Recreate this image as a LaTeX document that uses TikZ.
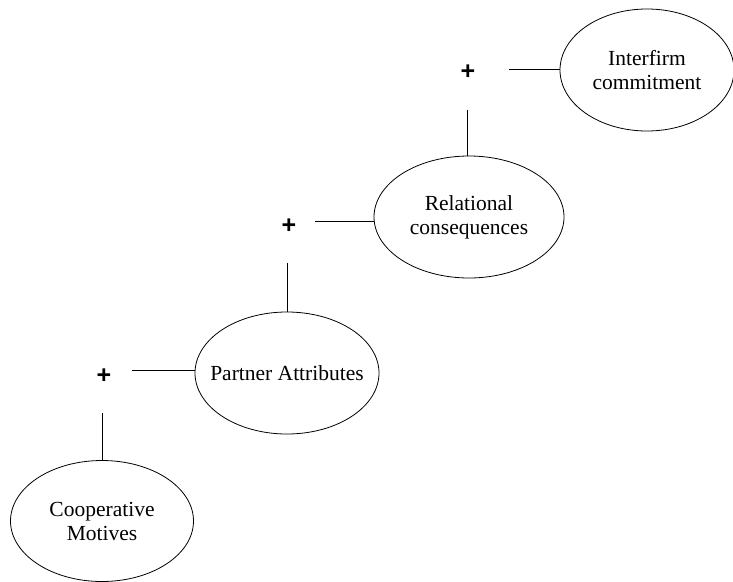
\documentclass[tikz,border=0pt]{standalone}
\usepackage{fontspec}
\setmainfont{Liberation Serif}
\newfontfamily\plusfont{Liberation Sans Bold}
\usetikzlibrary{shapes.geometric}
\begin{document}
\begin{tikzpicture}[x=1pt,y=-1pt,
  oval/.style={draw=black, line width=0.8pt, ellipse, inner xsep=-20pt, inner ysep=0pt, align=center,
    font=\fontsize{21.5}{24}\selectfont},
  plussign/.style={font=\plusfont\fontsize{25}{25}\selectfont, inner sep=0pt},
  link/.style={draw=black, line width=0.9pt}]
\useasboundingbox (0,0) rectangle (733,581);
\node[oval, minimum width=183pt, minimum height=121pt] (coop) at (102,521) {Cooperative\\Motives};
\node[oval, minimum width=184pt, minimum height=122pt] (partner) at (287,373) {Partner Attributes};
\node[oval, minimum width=190pt, minimum height=122pt] (relational) at (469,217) {Relational\\consequences};
\node[oval, minimum width=174pt, minimum height=122pt] (interfirm) at (647,70) {Interfirm\\commitment};
\node[plussign] (p1) at (104,376) {+};
\node[plussign] (p2) at (289,226) {+};
\node[plussign] (p3) at (468,72) {+};
\coordinate (v1) at (102,413);
\coordinate (h1) at (132,370);
\coordinate (v2) at (287,263);
\coordinate (h2) at (315,221);
\coordinate (v3) at (467,110);
\coordinate (h3) at (509,69);
\draw[link] (v1) -- (v1 |- coop.north);
\draw[link] (h1) -- (h1 -| partner.west);
\draw[link] (v2) -- (v2 |- partner.north);
\draw[link] (h2) -- (h2 -| relational.west);
\draw[link] (v3) -- (v3 |- relational.north);
\draw[link] (h3) -- (h3 -| interfirm.west);
\end{tikzpicture}
\end{document}
